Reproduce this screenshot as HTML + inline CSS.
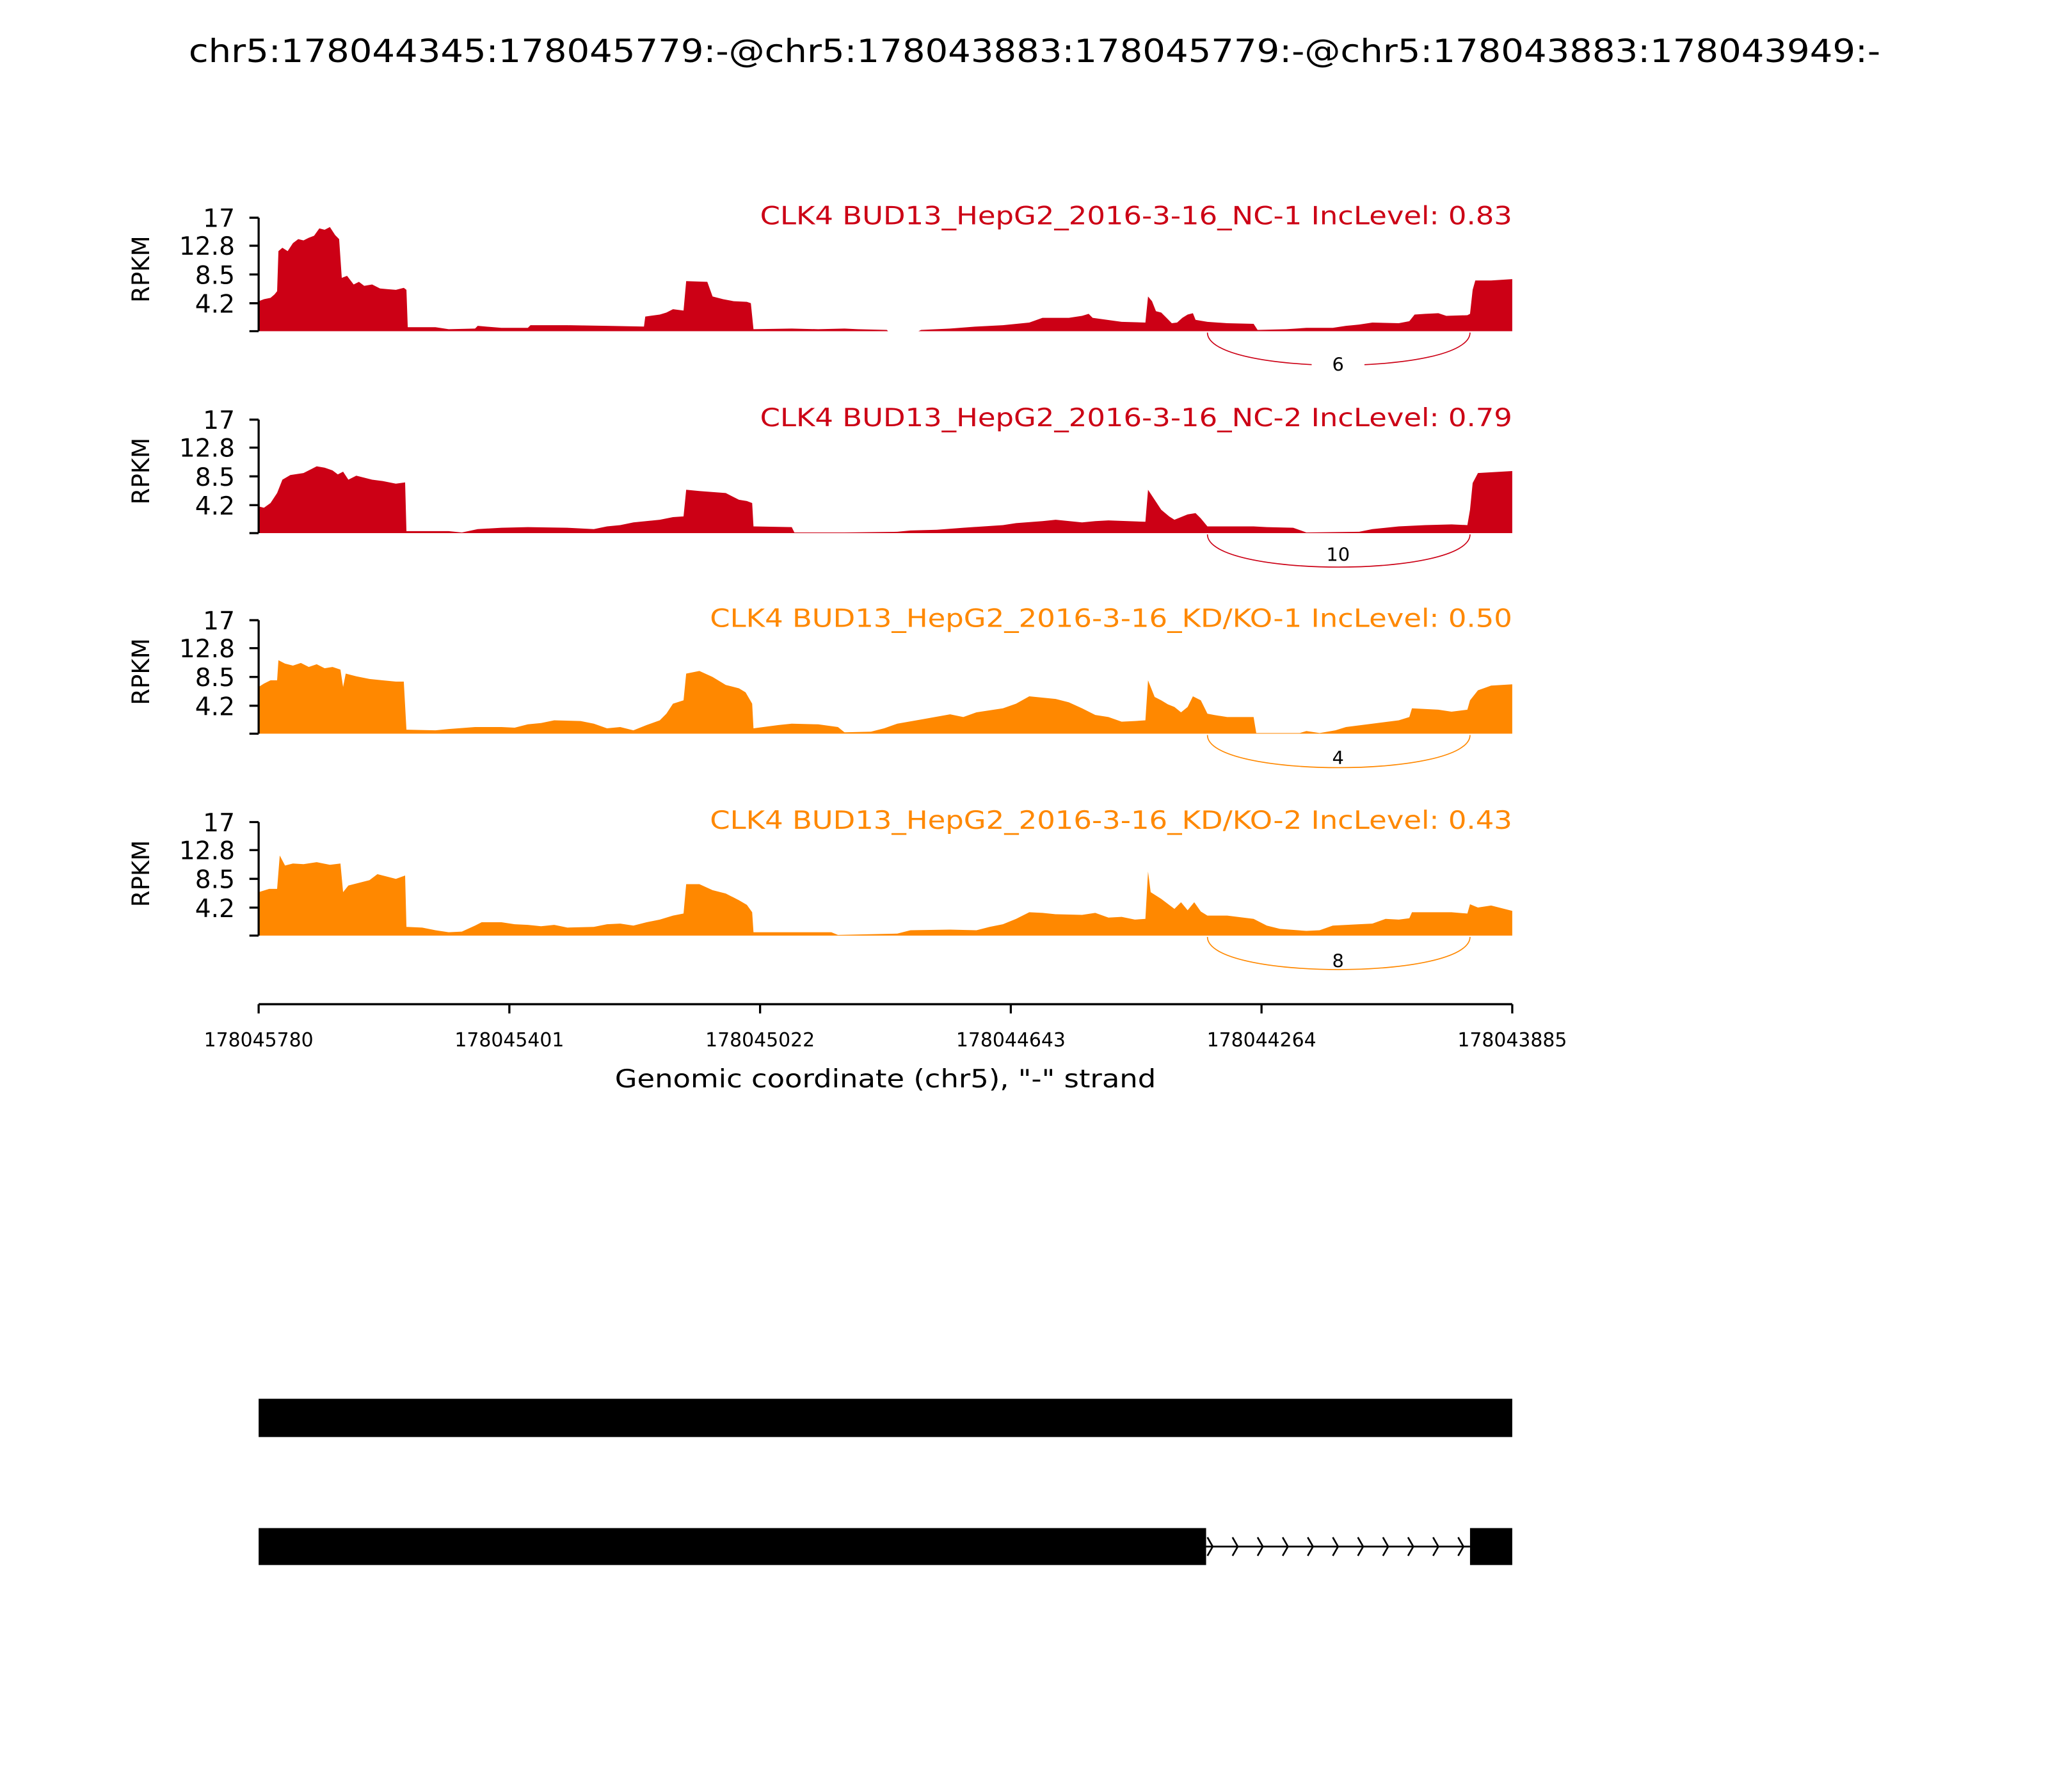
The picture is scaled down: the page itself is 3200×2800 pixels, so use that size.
<!DOCTYPE html>
<html><head><meta charset="utf-8"><style>
html,body{margin:0;padding:0;background:#fff;}
svg{display:block;}
text{font-family:"DejaVu Sans","Liberation Sans",sans-serif;}
</style></head><body>
<svg width="3200" height="2800" viewBox="0 0 1552 1358" xmlns="http://www.w3.org/2000/svg">
<rect width="1552" height="1358" fill="#fff"/>
<text x="784" y="47" font-size="24" text-anchor="middle" textLength="1282" lengthAdjust="spacingAndGlyphs">chr5:178044345:178045779:-@chr5:178043883:178045779:-@chr5:178043883:178043949:-</text>

<!-- Track 1 -->
<g transform="translate(0,251) scale(1,-5.0588)">
<path fill="#cc0015" d="M196,0 L196,4.5 200,4.8 205,5 208,5.5 210,6 211,12 214,12.5 218,12 222,13.2 226,13.8 230,13.6 234,14 238,14.3 242,15.4 246,15.2 250,15.6 254,14.4 257,13.8 259,8 263,8.3 268,7 272,7.4 276,6.8 282,7 288,6.4 294,6.3 300,6.2 306,6.5 308,6.2 309,0.6 330,0.6 340,0.3 360,0.4 362,0.8 380,0.5 400,0.5 402,0.9 430,0.9 460,0.8 488,0.7 489,2.2 500,2.5 505,2.8 510,3.3 518,3.1 520,7.5 536,7.4 540,5.2 548,4.8 556,4.5 566,4.4 569,4.2 571,0.3 600,0.4 620,0.3 640,0.4 650,0.3 672,0.2 673,0 696,0 698,0.2 720,0.4 740,0.7 760,0.9 780,1.3 790,2 810,2 820,2.3 825,2.6 828,2 850,1.4 868,1.3 870,5.2 873,4.5 876,3 880,2.8 884,2 888,1.2 892,1.3 896,2 900,2.5 904,2.7 906,1.7 915,1.4 930,1.2 950,1.1 953,0.2 975,0.3 990,0.5 1010,0.5 1020,0.8 1030,1 1040,1.3 1060,1.2 1068,1.5 1072,2.5 1080,2.6 1090,2.7 1096,2.3 1112,2.4 1114,2.6 1116,6.2 1118,7.6 1130,7.6 1146,7.8 1146,0 Z"/>
</g>
<!-- Track 2 -->
<g transform="translate(0,404) scale(1,-5.0588)">
<path fill="#cc0015" d="M196,0 L196,4 200,3.8 205,4.5 210,6 214,8 220,8.7 230,9 236,9.6 240,10 246,9.8 252,9.4 256,8.8 260,9.2 264,8 270,8.6 276,8.3 282,8 290,7.8 300,7.4 307,7.6 308,0.3 340,0.3 350,0.1 362,0.6 380,0.8 400,0.9 430,0.8 450,0.6 460,1 470,1.2 480,1.6 500,2 510,2.4 518,2.5 520,6.5 530,6.3 550,6 560,5 566,4.8 570,4.5 571,1 600,0.9 602,0.1 640,0.1 680,0.2 690,0.4 710,0.5 730,0.8 760,1.2 770,1.5 790,1.8 800,2 820,1.6 830,1.8 840,1.9 868,1.7 870,6.5 875,5 880,3.5 886,2.5 890,2 900,2.8 906,3 910,2.2 915,1 950,1 960,0.9 980,0.8 990,0.1 1030,0.2 1040,0.6 1060,1 1080,1.2 1100,1.3 1112,1.2 1114,3.5 1116,7.5 1120,9 1146,9.3 1146,0 Z"/>
</g>
<!-- Track 3 -->
<g transform="translate(0,556) scale(1,-5.0588)">
<path fill="#ff8800" d="M196,0 L196,7 200,7.5 205,8 210,8 211,11 216,10.5 222,10.2 228,10.6 234,10 240,10.4 246,9.8 252,10 258,9.6 260,7 262,9 270,8.6 280,8.2 290,8 300,7.8 306,7.8 308,0.6 330,0.5 340,0.7 360,1 380,1 390,0.9 400,1.4 410,1.6 420,2 440,1.9 450,1.5 460,0.8 470,1 480,0.5 490,1.3 500,2 505,3 510,4.5 518,5 520,9 530,9.4 540,8.5 550,7.3 560,6.8 565,6.2 570,4.5 571,0.8 590,1.3 600,1.5 620,1.4 635,1 640,0.2 660,0.3 670,0.8 680,1.5 700,2.2 720,2.9 730,2.5 740,3.2 760,3.8 770,4.5 780,5.6 800,5.2 810,4.7 820,3.8 830,2.8 840,2.5 850,1.8 860,1.9 868,2 870,8 875,5.5 880,5 885,4.4 890,4 895,3.2 900,4 904,5.6 910,5 915,3 920,2.8 930,2.5 950,2.5 952,0.1 985,0.1 990,0.4 1000,0.1 1012,0.5 1020,1 1040,1.5 1060,2 1068,2.5 1070,3.8 1090,3.6 1100,3.3 1112,3.6 1114,5 1120,6.5 1130,7.2 1146,7.4 1146,0 Z"/>
</g>
<!-- Track 4 -->
<g transform="translate(0,709) scale(1,-5.0588)">
<path fill="#ff8800" d="M196,0 L196,6.5 204,7 210,7 212,12 216,10.5 222,10.8 230,10.7 240,11 250,10.6 258,10.8 260,6.5 264,7.5 270,7.8 280,8.3 286,9.2 292,8.9 300,8.5 307,9 308,1.3 320,1.2 330,0.8 340,0.5 350,0.6 360,1.5 365,2 380,2 390,1.7 400,1.6 410,1.4 420,1.6 430,1.2 450,1.3 460,1.7 470,1.8 480,1.5 490,2 500,2.4 510,3 518,3.3 520,7.7 530,7.7 540,6.8 550,6.3 560,5.3 566,4.6 570,3.5 571,0.5 600,0.5 630,0.5 635,0.1 680,0.3 690,0.8 720,0.9 740,0.8 750,1.3 760,1.7 770,2.5 780,3.5 790,3.4 800,3.2 820,3.1 830,3.4 840,2.7 850,2.8 860,2.4 868,2.5 870,9.6 872,6.5 880,5.5 890,4 895,5 900,3.8 905,5 910,3.6 915,3 930,3 950,2.5 960,1.5 970,1 990,0.7 1000,0.8 1010,1.5 1030,1.7 1040,1.8 1050,2.5 1060,2.4 1068,2.6 1070,3.5 1100,3.5 1112,3.3 1114,4.7 1120,4.2 1130,4.5 1146,3.7 1146,0 Z"/>
</g>

<!-- Axes for tracks -->
<g stroke="#000" stroke-width="1.6" fill="none">
<path d="M196,165 V251 M189,165 H196 M189,186.2 H196 M189,208 H196 M189,229.8 H196 M189,251 H196"/>
<path d="M196,318 V404 M189,318 H196 M189,339.2 H196 M189,361 H196 M189,382.8 H196 M189,404 H196"/>
<path d="M196,470 V556 M189,470 H196 M189,491.2 H196 M189,513 H196 M189,534.8 H196 M189,556 H196"/>
<path d="M196,623 V709 M189,623 H196 M189,644.2 H196 M189,666 H196 M189,687.8 H196 M189,709 H196"/>
</g>
<g font-size="19" text-anchor="end">
<text x="178" y="172">17</text><text x="178" y="193">12.8</text><text x="178" y="215">8.5</text><text x="178" y="237">4.2</text>
<text x="178" y="325">17</text><text x="178" y="346">12.8</text><text x="178" y="368">8.5</text><text x="178" y="390">4.2</text>
<text x="178" y="477">17</text><text x="178" y="498">12.8</text><text x="178" y="520">8.5</text><text x="178" y="542">4.2</text>
<text x="178" y="630">17</text><text x="178" y="651">12.8</text><text x="178" y="673">8.5</text><text x="178" y="695">4.2</text>
</g>
<g font-size="18" text-anchor="middle">
<text transform="translate(113,204) rotate(-90)">RPKM</text>
<text transform="translate(113,357) rotate(-90)">RPKM</text>
<text transform="translate(113,509) rotate(-90)">RPKM</text>
<text transform="translate(113,662) rotate(-90)">RPKM</text>
</g>
<g font-size="19" text-anchor="end">
<text x="1146" y="170" fill="#cc0015" textLength="570" lengthAdjust="spacingAndGlyphs">CLK4 BUD13_HepG2_2016-3-16_NC-1 IncLevel: 0.83</text>
<text x="1146" y="323" fill="#cc0015" textLength="570" lengthAdjust="spacingAndGlyphs">CLK4 BUD13_HepG2_2016-3-16_NC-2 IncLevel: 0.79</text>
<text x="1146" y="475" fill="#ff8800" textLength="608" lengthAdjust="spacingAndGlyphs">CLK4 BUD13_HepG2_2016-3-16_KD/KO-1 IncLevel: 0.50</text>
<text x="1146" y="628" fill="#ff8800" textLength="608" lengthAdjust="spacingAndGlyphs">CLK4 BUD13_HepG2_2016-3-16_KD/KO-2 IncLevel: 0.43</text>
</g>

<!-- Junction arcs -->
<g fill="none" stroke-width="0.8">
<path stroke="#cc0015" d="M915,252 C915,285 1114,285 1114,252"/>
<path stroke="#cc0015" d="M915,405 C915,438 1114,438 1114,405"/>
<path stroke="#ff8800" d="M915,557 C915,590 1114,590 1114,557"/>
<path stroke="#ff8800" d="M915,710 C915,743 1114,743 1114,710"/>
</g>
<g fill="#fff"><rect x="994" y="268" width="40" height="16"/><rect x="994" y="411" width="40" height="16"/><rect x="994" y="563" width="40" height="16"/><rect x="994" y="716" width="40" height="16"/></g>
<g font-size="14" text-anchor="middle">
<text x="1014" y="281">6</text><text x="1014" y="425">10</text><text x="1014" y="579">4</text><text x="1014" y="733">8</text>
</g>

<!-- X axis -->
<g stroke="#000" stroke-width="1.6" fill="none">
<path d="M196,761 H1146 M196,761 V768 M386,761 V768 M576,761 V768 M766,761 V768 M956,761 V768 M1146,761 V768"/>
</g>
<g font-size="14.5" text-anchor="middle">
<text x="196" y="793">178045780</text><text x="386" y="793">178045401</text><text x="576" y="793">178045022</text>
<text x="766" y="793">178044643</text><text x="956" y="793">178044264</text><text x="1146" y="793">178043885</text>
</g>
<text x="671" y="824" font-size="19" text-anchor="middle" textLength="410" lengthAdjust="spacingAndGlyphs">Genomic coordinate (chr5), "-" strand</text>

<!-- Gene models -->
<rect x="196" y="1060" width="950" height="29" fill="#000"/>
<rect x="196" y="1158" width="718" height="28" fill="#000"/>
<rect x="1114" y="1158" width="32" height="28" fill="#000"/>
<g stroke="#000" stroke-width="1.3" fill="none">
<path d="M914,1172 H1114"/>
<path d="M915,1165 L919,1172 L915,1179 M934,1165 L938,1172 L934,1179 M953,1165 L957,1172 L953,1179 M972,1165 L976,1172 L972,1179 M991,1165 L995,1172 L991,1179 M1010,1165 L1014,1172 L1010,1179 M1029,1165 L1033,1172 L1029,1179 M1048,1165 L1052,1172 L1048,1179 M1067,1165 L1071,1172 L1067,1179 M1086,1165 L1090,1172 L1086,1179 M1105,1165 L1109,1172 L1105,1179"/>
</g>
</svg>
</body></html>
